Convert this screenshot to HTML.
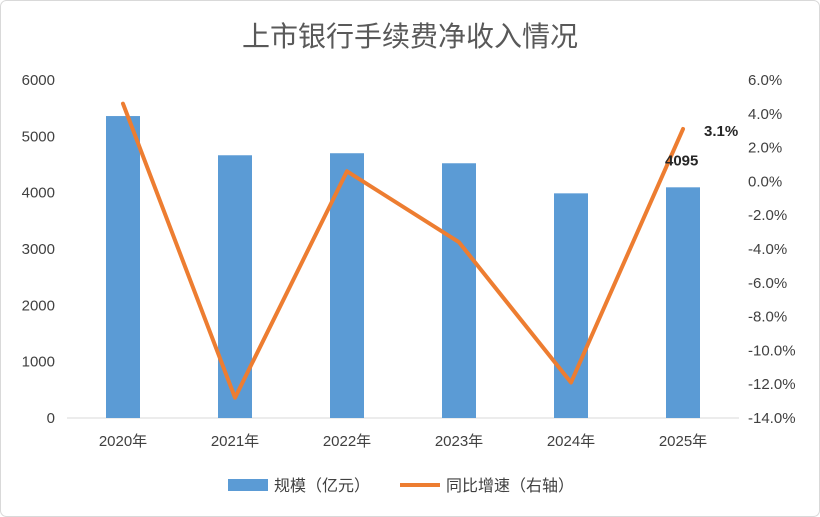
<!DOCTYPE html>
<html><head><meta charset="utf-8"><style>
body{margin:0;background:#fff;}
svg{display:block;font-family:"Liberation Sans","Noto Sans CJK SC",sans-serif;}
</style></head><body>
<svg id="chart" width="820" height="517" viewBox="0 0 820 517">
<rect x="0.5" y="0.5" width="819" height="516" rx="6" fill="#fff" stroke="#d9d9d9"/>
<text x="410" y="46" text-anchor="middle" font-size="28" fill="#595959">上市银行手续费净收入情况</text>
<g id="plot"></g>
<g>
<rect x="228" y="479" width="40" height="12" fill="#5b9bd5"/>
<text x="274" y="491" font-size="16" fill="#404040">规模（亿元）</text>
<line x1="400" y1="485" x2="440" y2="485" stroke="#ed7d31" stroke-width="4"/>
<text x="446" y="491" font-size="16" fill="#404040">同比增速（右轴）</text>
</g>
</svg>
<script>
const categories=["2020年","2021年","2022年","2023年","2024年","2025年"];
const scaleValues=[5360,4664,4700,4522,3988,4095];
const growthValues=[4.6,-12.8,0.6,-3.6,-11.9,3.1];
const leftTicks=[0,1000,2000,3000,4000,5000,6000];
const rightTicks=[-14,-12,-10,-8,-6,-4,-2,0,2,4,6];
const NS="http://www.w3.org/2000/svg";
const g=document.getElementById('plot');
const X0=67,X1=739,Y0=418,Y1=80;
const yL=v=>Y0-(v-0)/6000*(Y0-Y1);
const yR=v=>Y0-(v+14)/20*(Y0-Y1);
const step=(X1-X0)/categories.length;
const xC=i=>X0+step*(i+0.5);
function mk(tag,attrs){const e=document.createElementNS(NS,tag);for(const k in attrs)e.setAttribute(k,attrs[k]);g.appendChild(e);return e;}
let ax=mk('line',{x1:X0,y1:Y0,x2:X1,y2:Y0,stroke:'#d9d9d9','stroke-width':1});


leftTicks.forEach(v=>{const t=mk('text',{x:55,y:yL(v)+5,'text-anchor':'end','font-size':15,fill:'#404040'});t.textContent=v;

});
rightTicks.forEach(v=>{const t=mk('text',{x:748,y:yR(v)+5,'font-size':15,fill:'#404040'});t.textContent=v.toFixed(1)+'%';

});
categories.forEach((c,i)=>{const t=mk('text',{x:xC(i),y:446,'text-anchor':'middle','font-size':15,fill:'#404040'});t.textContent=c;

});
const bw=34;
scaleValues.forEach((v,i)=>{const r=mk('rect',{x:xC(i)-bw/2,y:yL(v),width:bw,height:Y0-yL(v),fill:'#5b9bd5'});

});
const pts=growthValues.map((v,i)=>xC(i)+','+yR(v)).join(' ');
const pl=mk('polyline',{points:pts,fill:'none',stroke:'#ed7d31','stroke-width':4,'stroke-linejoin':'round','stroke-linecap':'round'});


const n=categories.length-1;
const l1=mk('text',{x:xC(n)-18,y:yL(scaleValues[n])-22,'font-size':15,fill:'#262626','font-weight':'600'});l1.textContent=scaleValues[n];


const l2=mk('text',{x:xC(n)+21,y:yR(growthValues[n])+7,'font-size':15,fill:'#262626','font-weight':'600'});l2.textContent=growthValues[n].toFixed(1)+'%';


</script>
</body></html>
